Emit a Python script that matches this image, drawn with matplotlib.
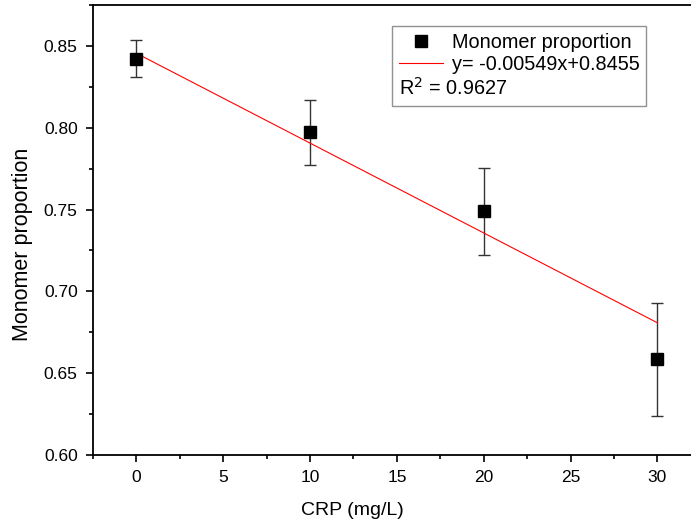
import numpy as np
import matplotlib
matplotlib.use("Agg")
from matplotlib import pyplot as plt
from matplotlib.lines import Line2D

plt.rcParams['font.family'] = ['Liberation Sans', 'DejaVu Sans']

crp = [0, 10, 20, 30]
monomer = [0.8423, 0.7971, 0.7490, 0.6585]
err = [0.0112, 0.0199, 0.0265, 0.0347]
slope = -0.00549
intercept = 0.8455
r2 = 0.9627

fig = plt.figure(figsize=(6.91, 5.27), dpi=100)
ax = fig.add_axes([0.1346, 0.1366, 0.8796, 0.8539])

ax.errorbar(crp, monomer, yerr=err, fmt='none', ecolor='#333333',
            elinewidth=1.0, capsize=4.5, capthick=1.0, zorder=2)
pts, = ax.plot(crp, monomer, 's', color='black', markersize=8, zorder=3)
xfit = np.array([crp[0], crp[-1]])
fit, = ax.plot(xfit, slope * xfit + intercept, color='red', lw=0.8, zorder=2.5)

ax.set_xlim(-2.5, 32.5)
ax.set_ylim(0.6, 0.875)
ax.set_xticks([0, 5, 10, 15, 20, 25, 30])
ax.set_xticks(np.arange(-2.5, 33, 5), minor=True)
ax.set_yticks([0.60, 0.65, 0.70, 0.75, 0.80, 0.85])
ax.set_yticks(np.arange(0.625, 0.876, 0.05), minor=True)
ax.yaxis.set_major_formatter(plt.FormatStrFormatter('%.2f'))
ax.tick_params(which='major', direction='out', length=5, width=1.2,
               labelsize=12.5, pad=6)
ax.tick_params(which='minor', direction='out', length=3, width=1.2)
for s in ax.spines.values():
    s.set_linewidth(1.3)

ax.set_xlabel('CRP (mg/L)', fontsize=14)
ax.set_ylabel('Monomer proportion', fontsize=15.5)
ax.xaxis.set_label_coords(0.426, -0.104)
ax.yaxis.set_label_coords(-0.098, 0.467)

blank = Line2D([], [], alpha=0)
leg = ax.legend([pts, fit, blank],
                ['Monomer proportion', 'y= -0.00549x+0.8455',
                 'R$^2$ = %.4f' % r2],
                loc='upper left', bbox_to_anchor=(0.492, 0.953),
                fontsize=14.3, frameon=True, fancybox=False,
                edgecolor='#777777', handlelength=2.2, handletextpad=0.45,
                labelspacing=0.15, borderpad=0.35, borderaxespad=0)
leg.get_frame().set_linewidth(1.0)
# third row: text only, starting at the handle column
col = leg._legend_handle_box.get_children()[0]
row = col.get_children()[2]
row._children = [row.get_children()[1]]

fig.savefig('out.png', dpi=100)
